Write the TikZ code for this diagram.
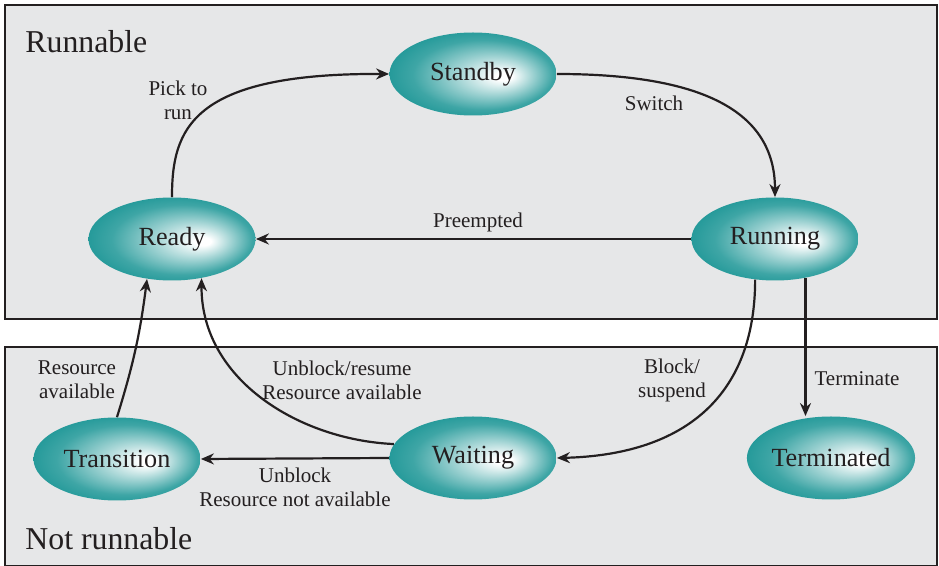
\documentclass[tikz,border=0pt]{standalone}
\usepackage{fontspec}
\setmainfont{Liberation Serif}
\usetikzlibrary{arrows.meta}
\usetikzlibrary{shapes.geometric}

\definecolor{stateteal}{RGB}{20,146,146}
\definecolor{regiongray}{RGB}{230,231,232}
\definecolor{inkblack}{RGB}{35,31,32}
\pgfdeclareradialshading{stateglow}{\pgfpoint{10bp}{-1.5bp}}{%
  color(0bp)=(white); color(2.5bp)=(white); color(11bp)=(stateteal!38!white);
  color(21bp)=(stateteal!82!white); color(30bp)=(stateteal)}

\begin{document}
\begin{tikzpicture}[x=0.5pt, y=-0.5pt,
    state/.style={ellipse, shade, shading=stateglow, minimum width=83.5pt,
        minimum height=41.5pt, inner sep=0pt, text=inkblack,
        font=\fontsize{13.1}{15}\selectfont},
    region/.style={draw=inkblack, line width=0.6pt, fill=regiongray},
    regionlabel/.style={anchor=base west, inner sep=0pt, text=inkblack,
        font=\fontsize{15.9}{18}\selectfont},
    edgelabel/.style={align=center, text=inkblack, font=\fontsize{10.5}{12}\selectfont},
    move/.style={-{Stealth[length=6.5pt,width=5.5pt]}, line width=1.1pt, draw=inkblack}]

    \fill[white] (0,0) rectangle (939,566);
    \useasboundingbox (0,0) rectangle (939,566);

    % the two regions
    \draw[region] (5,5) rectangle (937,319);
    \draw[region] (5,347) rectangle (937,566);
    \node[regionlabel] (runnable) at (25,53) {Runnable};
    \node[regionlabel] (notrunnable) at (25,550) {Not runnable};

    % states
    \node[state] (standby) at (473,74) {Standby};
    \node[state] (ready) at (172,239) {Ready};
    \node[state] (running) at (775,239) {Running};
    \node[state] (transition) at (117,459) {Transition};
    \node[state] (waiting) at (473,458) {Waiting};
    \node[state] (terminated) at (831,458) {Terminated};

    % transitions
    \draw[move] (ready.north) .. controls (172,130) and (190,73) .. (standby.west);
    \node[edgelabel] (pick) at (178,100) {Pick to\\run};

    \draw[move] (standby.east) .. controls (700,74) and (775,110) .. (running.north);
    \node[edgelabel] (switch) at (654,103) {Switch};

    \draw[move] (running.west) -- (ready.east);
    \node[edgelabel] (preempted) at (478,222) {Preempted};

    \draw[move] (running.-116) .. controls (755,400) and (680,455) .. (waiting.east);
    \node[edgelabel] (block) at (672,380) {Block/\\suspend};

    \draw[move] (running.-52) -- (running.-52 |- terminated.north);
    \node[edgelabel] (terminate) at (857,379) {Terminate};

    \draw[move] (waiting.170) .. controls (300,440) and (201,380) .. (ready.-53);
    \node[edgelabel] (unblockres) at (342,380) {Unblock/resume\\Resource available};

    \draw[move] (waiting.west) -- (transition.east);
    \node[edgelabel] (unblocknot) at (295,487) {Unblock\\Resource not available};

    \draw[move] (transition.north) to[bend right=5] (ready.-122);
    \node[edgelabel] (resavail) at (77,380) {Resource\\available};
\end{tikzpicture}
\end{document}
